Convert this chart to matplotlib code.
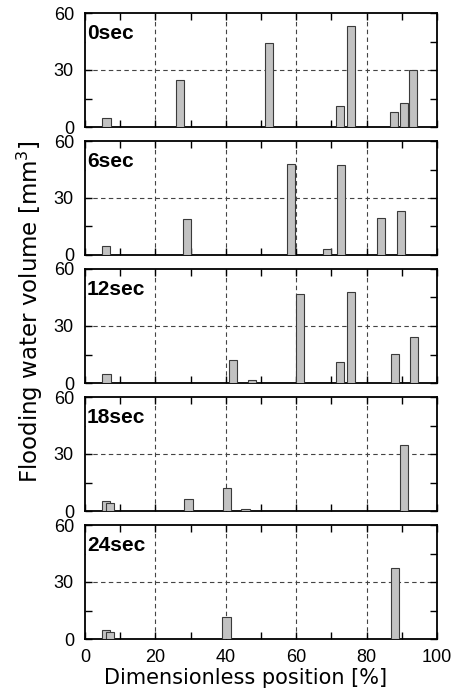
import matplotlib
matplotlib.use("Agg")
import matplotlib.pyplot as plt

plt.rcParams['font.family'] = ['Liberation Sans', 'DejaVu Sans']

labels = ["0sec", "6sec", "12sec", "18sec", "24sec"]
pos_0 = [6.1, 27.0, 52.3, 72.5, 75.6, 87.9, 90.7, 93.3]
vol_0 = [5.0, 25.0, 44.0, 11.0, 53.0, 8.0, 12.5, 30.0]
pos_6 = [6.0, 28.9, 58.4, 68.7, 72.8, 84.2, 89.9]
vol_6 = [4.6, 19.0, 48.0, 3.2, 47.4, 19.4, 23.1]
pos_12 = [6.1, 42.0, 47.4, 61.1, 72.5, 75.5, 88.0, 93.4]
vol_12 = [4.9, 11.9, 1.4, 46.9, 11.2, 47.7, 15.4, 24.1]
pos_18 = [6.0, 7.0, 29.4, 40.3, 45.6, 90.7]
vol_18 = [5.4, 4.4, 6.1, 12.1, 1.2, 34.6]
pos_24 = [6.0, 7.0, 40.2, 88.1]
vol_24 = [4.6, 3.9, 11.5, 37.6]

positions = [pos_0, pos_6, pos_12, pos_18, pos_24]
volumes = [vol_0, vol_6, vol_12, vol_18, vol_24]

W, H = 456, 695
fig = plt.figure(figsize=(W / 100, H / 100), dpi=100)
left = 85 / W
width = (437 - 85) / W
ph = 114
tops = [13, 141, 269, 397, 525]

axes = []
for i, (lab, xs, ys) in enumerate(zip(labels, positions, volumes)):
    top = tops[i]
    ax = fig.add_axes([left, 1 - (top + ph) / H, width, ph / H])
    axes.append(ax)
    ax.bar(xs, ys, width=2.3, color='#c2c2c2', edgecolor='#3a3a3a', linewidth=0.8, zorder=3)
    ax.set_xlim(0, 100)
    ax.set_ylim(0, 60)
    for gx in [20, 40, 60, 80]:
        ax.axvline(gx, color='#444444', linestyle=(0, (4, 3)), linewidth=0.8, zorder=1)
    ax.axhline(30, color='#444444', linestyle=(0, (4, 3)), linewidth=0.8, zorder=1)
    ax.set_yticks([0, 30, 60])
    ax.set_yticks([15, 45], minor=True)
    ax.set_xticks([0, 20, 40, 60, 80, 100])
    ax.set_xticks([10, 30, 50, 70, 90], minor=True)
    ax.tick_params(which='both', direction='in', top=True, right=True, labelsize=13)
    ax.tick_params(which='major', length=5, width=1.0)
    ax.tick_params(which='minor', length=5, width=1.0)
    ax.tick_params(axis='y', pad=8)
    ax.tick_params(axis='x', pad=7)
    if i < 4:
        ax.tick_params(labelbottom=False)
    for s in ax.spines.values():
        s.set_linewidth(1.3)
    ax.text(0.006, 0.90, lab, transform=ax.transAxes, fontsize=15, fontweight='bold',
            va='top', ha='left',
            bbox=dict(facecolor='white', edgecolor='none', pad=0.5), zorder=5)

axes[-1].set_xlabel("Dimensionless position [%]", fontsize=15,
                    family=['DejaVu Sans'])
axes[-1].xaxis.set_label_coords(0.455, -0.25)
fig.text(0.066, 0.551, "Flooding water volume [mm$^3$]", rotation=90, fontsize=16.5,
         family=['DejaVu Sans'], va='center', ha='center')

fig.savefig("out.png", dpi=100)
